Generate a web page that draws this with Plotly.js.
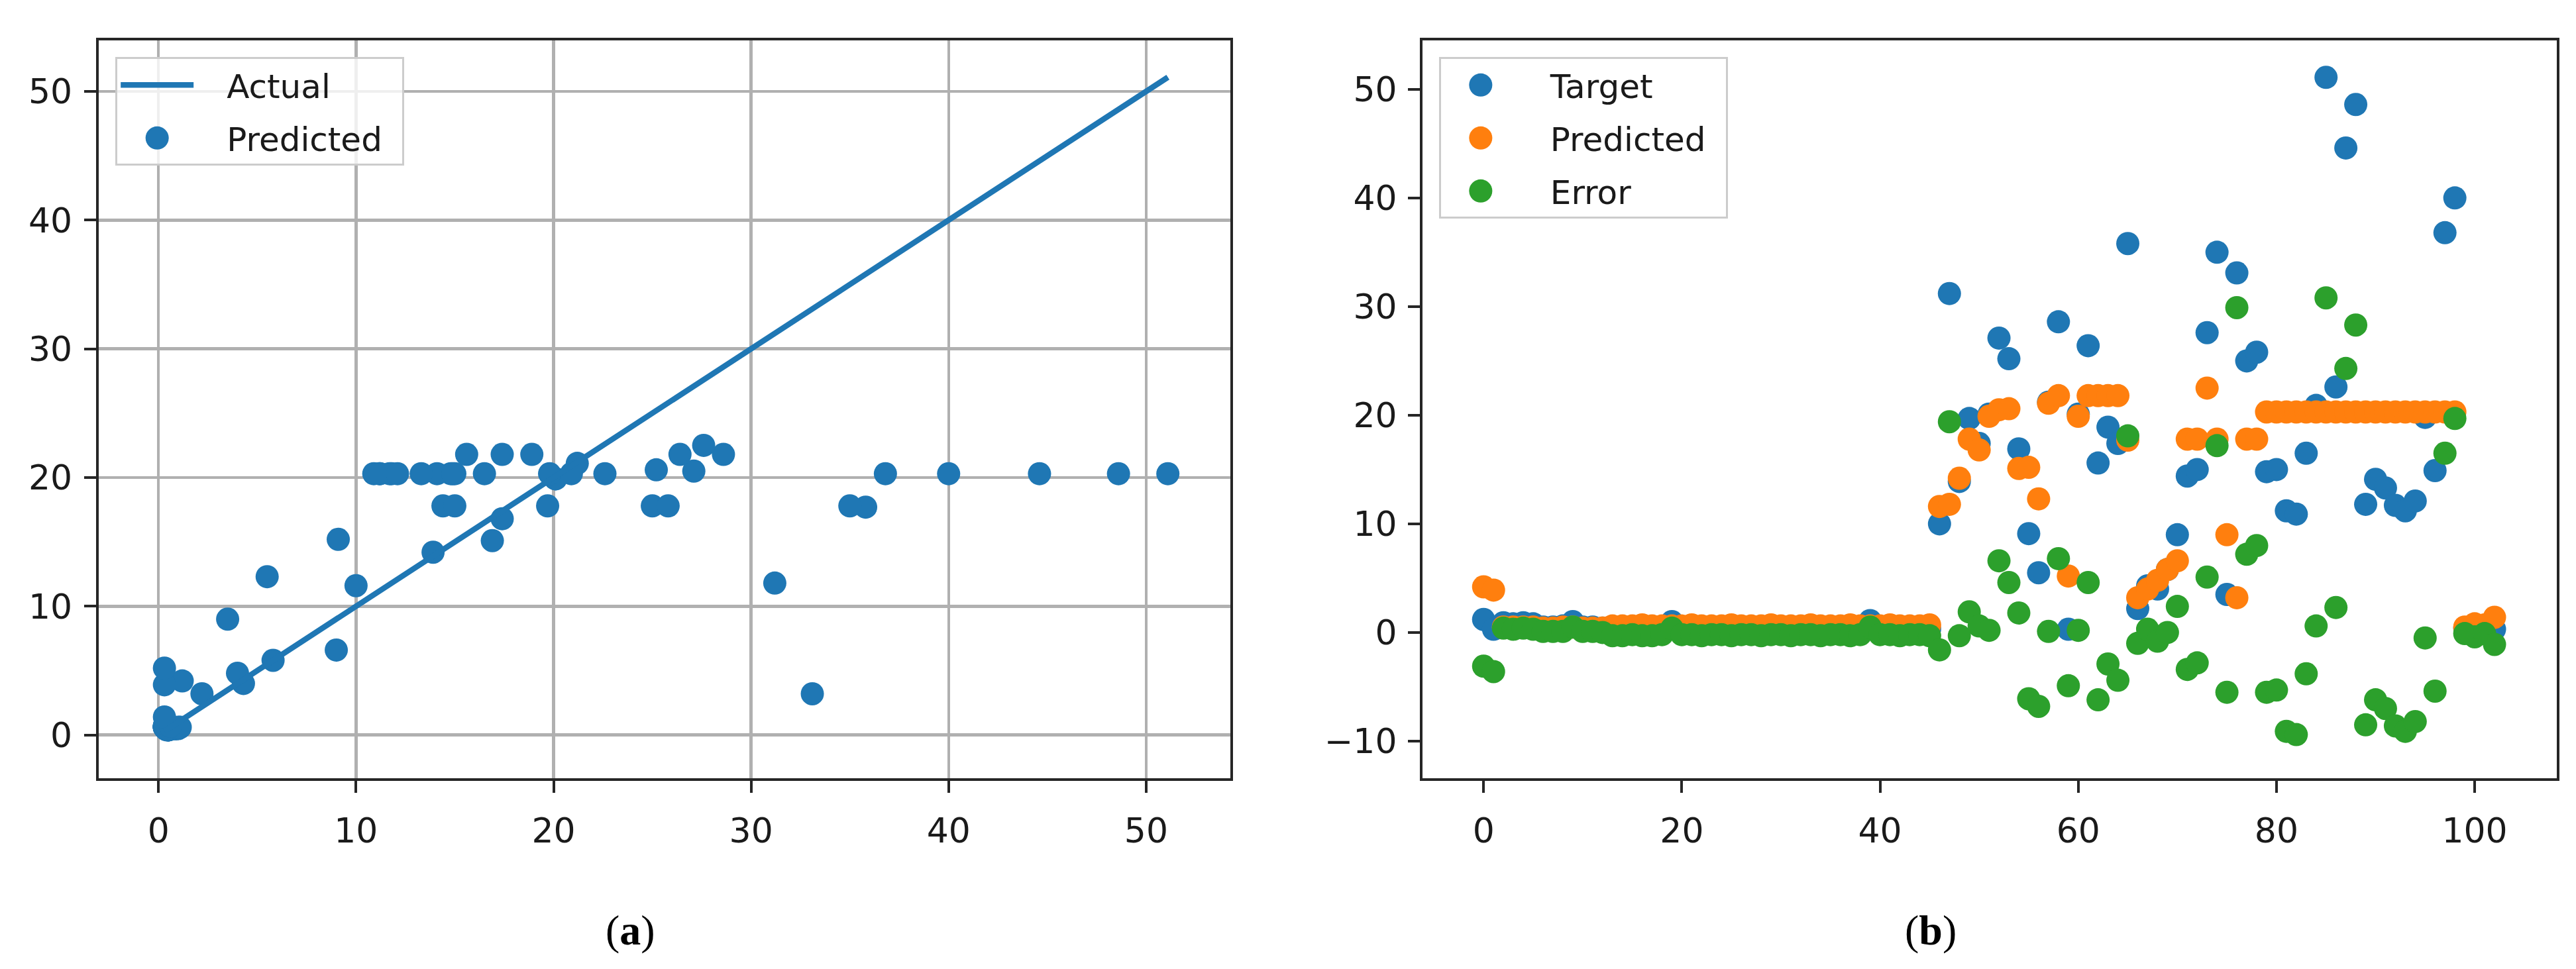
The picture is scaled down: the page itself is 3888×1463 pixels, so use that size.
<!DOCTYPE html>
<html>
<head>
<meta charset="utf-8">
<script src="https://cdn.plot.ly/plotly-3.0.1.min.js"></script>
<style>
html,body{margin:0;padding:0;background:#ffffff;}
#chart{width:3888px;height:1463px;}
</style>
</head>
<body>
<div id="chart"></div>
<script>
// Sample index (x of panel b)
const sampleIndex = [0,1,2,3,4,5,6,7,8,9,10,11,12,13,14,15,16,17,18,19,20,21,22,23,24,25,26,27,28,29,30,31,32,33,34,35,36,37,38,39,40,41,42,43,44,45,46,47,48,49,50,51,52,53,54,55,56,57,58,59,60,61,62,63,64,65,66,67,68,69,70,71,72,73,74,75,76,77,78,79,80,81,82,83,84,85,86,87,88,89,90,91,92,93,94,95,96,97,98,99,100,101,102];

// Target (actual) values
const targetValues = [1.2,0.3,0.9,0.8,0.9,0.8,0.5,0.5,0.6,1.0,0.5,0.5,0.4,0.3,0.3,0.4,0.3,0.3,0.4,1.0,
  0.4,0.4,0.3,0.4,0.4,0.3,0.4,0.4,0.3,0.4,0.4,0.3,0.4,0.4,0.3,0.4,0.4,0.3,0.4,1.1,
  0.4,0.4,0.3,0.4,0.4,0.3,10.0,31.2,13.9,19.7,17.4,20.1,27.1,25.2,16.9,9.1,5.5,21.2,28.6,0.3,
  20.1,26.4,15.6,18.9,17.4,35.8,2.2,4.3,4.0,5.8,9.0,14.4,15.0,27.6,35.0,3.5,33.1,25.0,25.8,14.8,
  15.0,11.2,10.9,16.5,20.9,51.1,22.6,44.6,48.6,11.8,14.1,13.3,11.7,11.2,12.1,19.8,14.9,36.8,40.0,0.4,
  0.4,0.6,0.3];

// Predicted values
const predictedValues = [4.2,3.9,0.5,0.5,0.5,0.5,0.4,0.4,0.5,0.5,0.4,0.4,0.4,0.6,0.6,0.6,0.7,0.6,0.6,0.6,
  0.6,0.7,0.6,0.6,0.6,0.7,0.6,0.6,0.6,0.7,0.6,0.6,0.6,0.7,0.6,0.6,0.6,0.7,0.6,0.6,
  0.6,0.7,0.6,0.6,0.6,0.7,11.6,11.8,14.2,17.8,16.8,19.9,20.5,20.6,15.1,15.2,12.3,21.1,21.8,5.2,
  19.9,21.8,21.8,21.8,21.8,17.7,3.2,4.0,4.8,5.8,6.6,17.8,17.8,22.5,17.8,9.0,3.2,17.8,17.8,20.3,
  20.3,20.3,20.3,20.3,20.3,20.3,20.3,20.3,20.3,20.3,20.3,20.3,20.3,20.3,20.3,20.3,20.3,20.3,20.3,0.5,
  0.8,0.7,1.4];

// Error values
const errorValues = [-3.1,-3.6,0.4,0.3,0.4,0.3,0.1,0.1,0.1,0.5,0.1,0.1,0.0,-0.3,-0.3,-0.2,-0.3,-0.3,-0.2,0.4,
  -0.2,-0.2,-0.3,-0.2,-0.2,-0.3,-0.2,-0.2,-0.3,-0.2,-0.2,-0.3,-0.2,-0.2,-0.3,-0.2,-0.2,-0.3,-0.2,0.5,
  -0.2,-0.2,-0.3,-0.2,-0.2,-0.3,-1.6,19.4,-0.3,1.9,0.6,0.2,6.6,4.6,1.8,-6.1,-6.8,0.1,6.8,-4.9,
  0.2,4.6,-6.2,-2.9,-4.4,18.1,-1.0,0.3,-0.8,0.0,2.4,-3.4,-2.8,5.1,17.2,-5.5,29.9,7.2,8.0,-5.5,
  -5.3,-9.1,-9.4,-3.8,0.6,30.8,2.3,24.3,28.3,-8.5,-6.2,-7.0,-8.6,-9.1,-8.2,-0.5,-5.4,16.5,19.7,-0.1,
  -0.4,-0.1,-1.1];

const seriesNames = ['Actual','Predicted','Target','Error'];
const captions = ['(<b>a</b>)','(<b>b</b>)'];

const BLUE = '#1f77b4', ORANGE = '#ff7f0e', GREEN = '#2ca02c';
const FONT = 'DejaVu Sans';
const FS = 50;
const TFS = 52;
const MS = 35;
const GAP = '\u2002\u2009\u2009'; // spacing between legend symbol and label
const END = '\u2002';             // right padding inside legend box
function label(s){ return GAP + s + END; }

const traces = [
  {x: targetValues, y: predictedValues, type:'scatter', mode:'markers', name: label(seriesNames[1]),
   marker:{size:MS, color:BLUE}, xaxis:'x', yaxis:'y', legend:'legend', legendgroup:'a2', legendrank:2},
  {x: targetValues, y: targetValues, type:'scatter', mode:'lines', name: label(seriesNames[0]),
   line:{color:BLUE, width:8.5}, xaxis:'x', yaxis:'y', legend:'legend', legendgroup:'a1', legendrank:1},
  {x: sampleIndex, y: targetValues, type:'scatter', mode:'markers', name: label(seriesNames[2]),
   marker:{size:MS, color:BLUE}, xaxis:'x2', yaxis:'y2', legend:'legend2', legendgroup:'b1'},
  {x: sampleIndex, y: predictedValues, type:'scatter', mode:'markers', name: label(seriesNames[1]),
   marker:{size:MS, color:ORANGE}, xaxis:'x2', yaxis:'y2', legend:'legend2', legendgroup:'b2'},
  {x: sampleIndex, y: errorValues, type:'scatter', mode:'markers', name: label(seriesNames[3]),
   marker:{size:MS, color:GREEN}, xaxis:'x2', yaxis:'y2', legend:'legend2', legendgroup:'b3'}
];

const axisCommon = {
  zeroline:false, showline:true, mirror:true, linecolor:'#262626', linewidth:4,
  ticks:'outside', ticklen:18, tickwidth:4, tickcolor:'#262626',
  tickfont:{family:FONT, size:TFS, color:'#1a1a1a'}
};
const YDOM = [0.1966, 0.9583];

const legendCommon = {
  xanchor:'left', yanchor:'top', bordercolor:'#cccccc', borderwidth:3,
  bgcolor:'rgba(255,255,255,0.8)', font:{family:FONT, size:FS, color:'#1a1a1a'},
  itemwidth:110, tracegroupgap:12, itemclick:false, itemdoubleclick:false
};

const layout = {
  width:3888, height:1463,
  margin:{l:0, r:0, t:0, b:0},
  paper_bgcolor:'#ffffff', plot_bgcolor:'#ffffff',
  font:{family:FONT, size:FS, color:'#1a1a1a'},
  hovermode:false,
  xaxis: Object.assign({}, axisCommon, {domain:[0.03845,0.4776], range:[-3.01,54.26], tick0:0, dtick:10,
    showgrid:true, gridcolor:'#b0b0b0', gridwidth:4.5, anchor:'y', ticklabelstandoff:12}),
  yaxis: Object.assign({}, axisCommon, {domain:YDOM, range:[-3.38,53.96], tick0:0, dtick:10,
    showgrid:true, gridcolor:'#b0b0b0', gridwidth:4.5, anchor:'x', ticklabelstandoff:8}),
  xaxis2: Object.assign({}, axisCommon, {domain:[0.5522,0.9926], range:[-6.17,108.3], tick0:0, dtick:20,
    showgrid:false, anchor:'y2', ticklabelstandoff:12}),
  yaxis2: Object.assign({}, axisCommon, {domain:YDOM, range:[-13.44,54.5], tick0:0, dtick:10,
    showgrid:false, anchor:'x2', ticklabelstandoff:6}),
  legend: Object.assign({}, legendCommon, {x:0.0448, y:0.941}),
  legend2: Object.assign({}, legendCommon, {x:0.5586, y:0.941}),
  annotations:[
    {text:captions[0], xref:'paper', yref:'paper', x:0.2447, y:0.0403, xanchor:'center', yanchor:'middle',
     showarrow:false, font:{family:'Liberation Serif', size:64, color:'#000'}},
    {text:captions[1], xref:'paper', yref:'paper', x:0.7495, y:0.0403, xanchor:'center', yanchor:'middle',
     showarrow:false, font:{family:'Liberation Serif', size:64, color:'#000'}}
  ]
};

Plotly.newPlot('chart', traces, layout, {staticPlot:true, displayModeBar:false}).then(function(gd){
  // enlarge legend marker symbols to the plotted marker size (plotly caps them at 16px)
  const k = MS / 16;
  gd.querySelectorAll('.legendpoints path.scatterpts').forEach(function(p){
    const t = p.getAttribute('transform') || '';
    p.setAttribute('transform', t + ' scale(' + k + ')');
  });
});
</script>
</body>
</html>
